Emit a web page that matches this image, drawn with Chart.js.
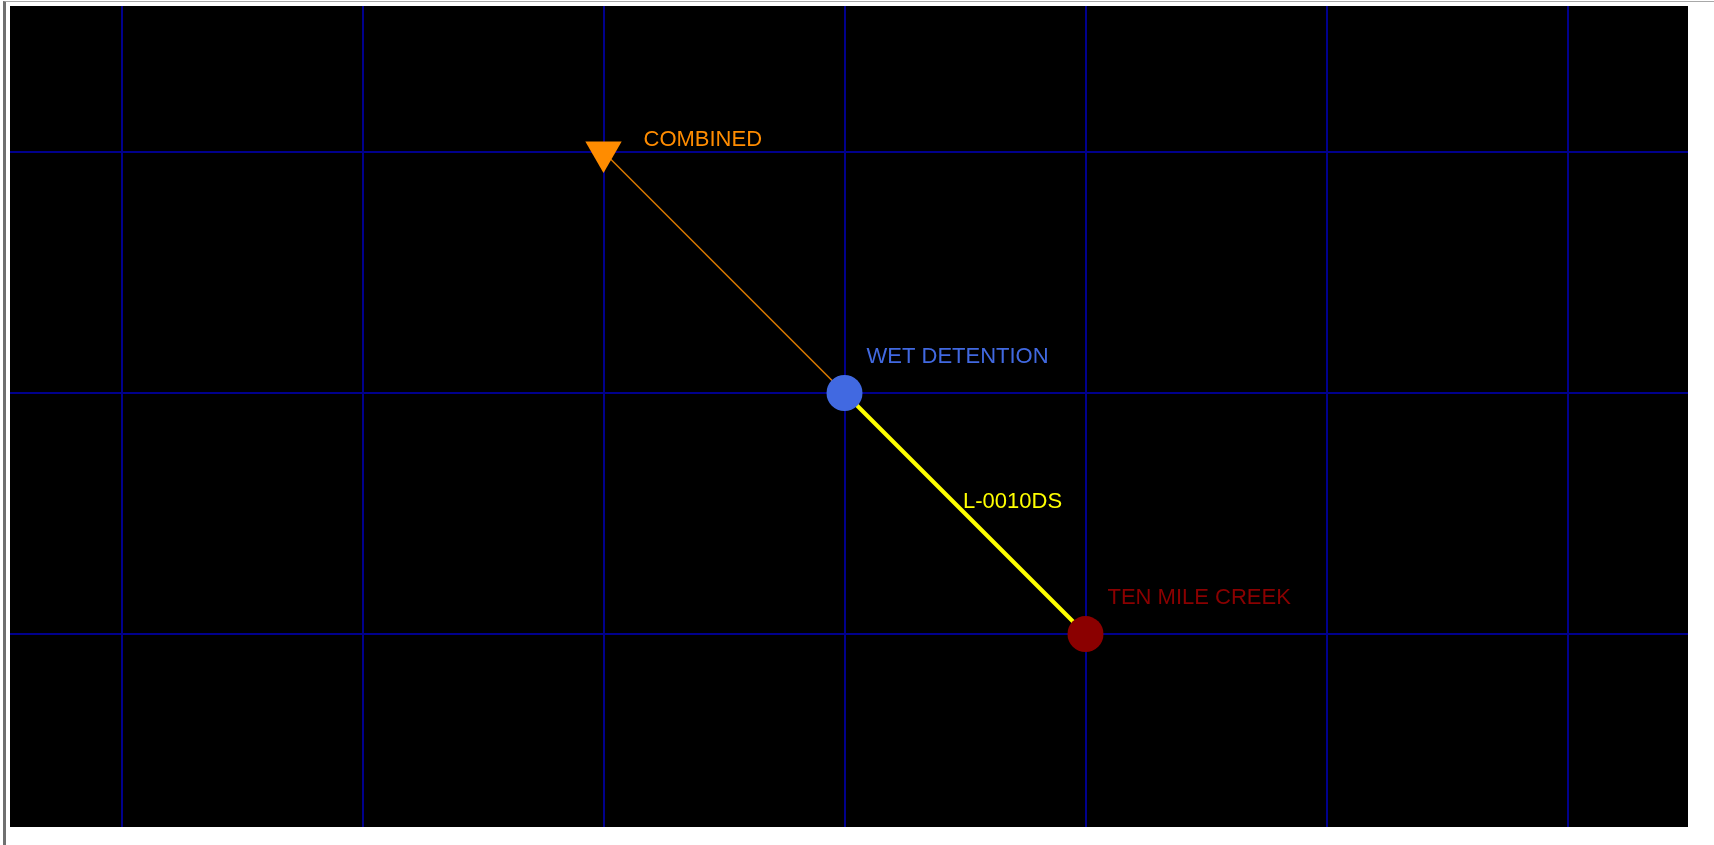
<!DOCTYPE html>
<html>
<head>
<meta charset="utf-8">
<script src="https://cdn.jsdelivr.net/npm/chart.js@4"></script>
<style>
    html, body {
        margin: 0;
        padding: 0;
        background: #ffffff;
        width: 1714px;
        height: 845px;
        overflow: hidden;
    }
    #frame {
        position: absolute;
        left: 3px;
        top: 1px;
        right: 0;
        bottom: 0;
        border-left: 3px solid #707070;
        border-top: 1px solid #a8a8a8;
    }
    #map {
        position: absolute;
        left: 10px;
        top: 6px;
        width: 1678px;
        height: 821px;
        background: #000000;
    }
</style>
</head>
<body>
<div id="frame"></div>
<div id="map"><canvas id="chartMap"></canvas></div>
<script>
// nodes of the network map
const nodeNames = ["COMBINED", "WET DETENTION", "TEN MILE CREEK"];
const nodeX = [2, 3, 4];
const nodeY = [2, 1, 0];
const nodeColors = ["#FF8C00", "#4169E1", "#8B0000"];

// links (index into nodes)
const linkFrom = [0, 1];
const linkTo = [1, 2];
const linkNames = ["", "L-0010DS"];
const linkColors = ["#d87800", "#FFFF00"];

// grid lines
const gridX = [0, 1, 2, 3, 4, 5, 6];
const gridY = [0, 1, 2];

// view extent
const xMin = -0.4627;
const xMax = 6.5;
const yMin = -0.8008;
const yMax = 2.6058;

const FONT = "22px 'Liberation Sans', Arial, sans-serif";

const labelPlugin = {
    id: "mapLabels",
    afterDatasetsDraw(chart) {

        const ctx = chart.ctx;
        const xs = chart.scales.x;
        const ys = chart.scales.y;

        ctx.save();
        ctx.font = FONT;
        ctx.textAlign = "left";
        ctx.textBaseline = "alphabetic";

        // node labels
        nodeNames.forEach((name, i) => {
            const px = xs.getPixelForValue(nodeX[i]);
            const py = ys.getPixelForValue(nodeY[i]);
            const off = i === 0 ? [40, -6] : [22, -30];
            ctx.fillStyle = nodeColors[i];
            ctx.fillText(name, px + off[0], py + off[1]);
        });

        // link labels at midpoint
        linkNames.forEach((name, i) => {
            if (!name) return;
            const a = linkFrom[i];
            const b = linkTo[i];
            const mx = xs.getPixelForValue((nodeX[a] + nodeX[b]) / 2);
            const my = ys.getPixelForValue((nodeY[a] + nodeY[b]) / 2);
            ctx.fillStyle = linkColors[i];
            ctx.fillText(name, mx - 2, my - 6);
        });

        ctx.restore();
    }
};

const linkDatasets = linkFrom.map((a, i) => {
    const b = linkTo[i];
    return {
        type: "line",
        data: [
            {x: nodeX[a], y: nodeY[a]},
            {x: nodeX[b], y: nodeY[b]}
        ],
        borderColor: linkColors[i],
        borderWidth: i === 0 ? 1.5 : 4,
        pointRadius: 0,
        fill: false,
        order: 1
    };
});

const nodeDataset = {
    type: "scatter",
    data: nodeNames.map((n, i) => ({x: nodeX[i], y: nodeY[i]})),
    backgroundColor: nodeColors,
    borderColor: nodeColors,
    borderWidth: 0,
    pointStyle: ["triangle", "circle", "circle"],
    pointRotation: [180, 0, 0],
    pointRadius: [21, 18, 18],
    pointHoverRadius: [21, 18, 18],
    order: 0
};

const gridOptions = {
    color: "#00008c",
    lineWidth: 2,
    drawTicks: false
};

new Chart(document.getElementById("chartMap"), {
    type: "scatter",
    data: {
        datasets: [nodeDataset, ...linkDatasets]
    },
    options: {
        responsive: true,
        maintainAspectRatio: false,
        animation: false,
        layout: {padding: 0, autoPadding: false},
        plugins: {
            legend: {display: false},
            tooltip: {enabled: false}
        },
        scales: {
            x: {
                type: "linear",
                min: xMin,
                max: xMax,
                afterBuildTicks(scale) {
                    scale.ticks = gridX.map(v => ({value: v}));
                },
                ticks: {display: false},
                grid: gridOptions,
                border: {display: false}
            },
            y: {
                type: "linear",
                min: yMin,
                max: yMax,
                afterBuildTicks(scale) {
                    scale.ticks = gridY.map(v => ({value: v}));
                },
                ticks: {display: false},
                grid: gridOptions,
                border: {display: false}
            }
        }
    },
    plugins: [labelPlugin]
});
</script>
</body>
</html>
